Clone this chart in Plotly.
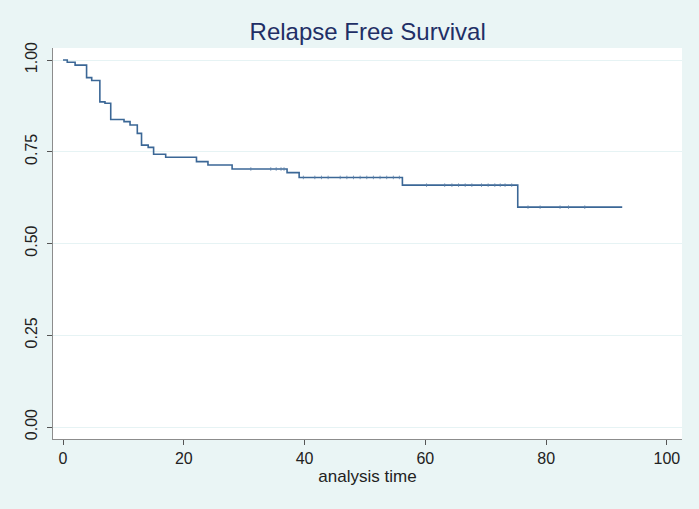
import plotly.graph_objects as go

# Kaplan-Meier step data (analysis time, survival)
step_times = [0, 0.7, 2.0, 3.9, 4.75, 6.1, 6.95, 7.9, 10.1, 11.1, 12.3, 13.0, 14.1,
              15.0, 17.0, 22.1, 24.0, 28.0, 37.1, 39.1, 56.2, 75.3, 92.6]
step_surv = [1.0, 0.994, 0.986, 0.952, 0.944, 0.886, 0.882, 0.838, 0.832, 0.823, 0.80,
             0.768, 0.762, 0.743, 0.735, 0.723, 0.714, 0.703, 0.693, 0.680, 0.659, 0.599, 0.599]

# censoring times
censor_times = [31.1, 34.4, 35.3, 36.1, 36.6,
                39.8, 41.7, 42.8, 43.9, 45.9, 47.0, 48.1, 49.2, 50.3, 51.4, 52.5, 53.6, 54.7, 55.7,
                60.2, 63.2, 64.4, 65.5, 66.6, 67.7, 69.3, 70.4, 71.5, 72.4, 73.2, 74.3,
                77.0, 79.0, 82.3, 83.7, 86.4]

x_ticks = [0, 20, 40, 60, 80, 100]
y_ticks = [0.0, 0.25, 0.5, 0.75, 1.0]
y_tick_labels = ["0.00", "0.25", "0.50", "0.75", "1.00"]

title_text = "Relapse Free Survival"
x_title = "analysis time"

line_color = "#3b6796"
bg = "#eaf5f5"

def surv_at(t):
    s = step_surv[0]
    for tt, ss in zip(step_times, step_surv):
        if tt <= t:
            s = ss
    return s

fig = go.Figure()
fig.add_trace(go.Scatter(x=step_times, y=step_surv, mode="lines",
                         line=dict(shape="hv", color=line_color, width=1.6),
                         hoverinfo="skip", showlegend=False))
fig.add_trace(go.Scatter(x=censor_times, y=[surv_at(t) for t in censor_times], mode="markers",
                         marker=dict(symbol="line-ns", size=2.5,
                                     line=dict(color="#5a7fa8", width=0.8)),
                         showlegend=False))

fig.update_layout(
    width=699, height=509,
    paper_bgcolor=bg, plot_bgcolor="white",
    margin=dict(l=53, r=17, t=48, b=70),
    title=dict(text=title_text, x=0.526, xanchor="center", y=1 - 32 / 509, yanchor="middle",
               font=dict(family="Liberation Sans, Arial", size=24, color="#1f2f66")),
    font=dict(family="Liberation Sans, Arial", color="#222222"),
)
fig.update_xaxes(range=[-1.66, 102.5], tickvals=x_ticks, showgrid=False, zeroline=False,
                 showline=True, linecolor="#8c8c8c", linewidth=1.2,
                 ticks="outside", ticklen=5, tickcolor="#555555", tickwidth=1,
                 tickfont=dict(size=16), automargin=False,
                 title=dict(text=x_title, font=dict(size=17), standoff=3))
fig.update_yaxes(range=[-0.0327, 1.0327], tickvals=y_ticks, ticktext=y_tick_labels,
                 showgrid=True, gridcolor="#e6f3f4", gridwidth=1, zeroline=False,
                 showline=True, linecolor="#8c8c8c", linewidth=1.2,
                 ticks="outside", ticklen=5, tickcolor="#555555", tickwidth=1,
                 tickangle=-90, tickfont=dict(size=16), ticklabelstandoff=4,
                 automargin=False)

fig.write_html("out.html", config={"displayModeBar": False},
               post_script="document.body.style.margin='0px';document.body.style.background='" + bg + "';")
